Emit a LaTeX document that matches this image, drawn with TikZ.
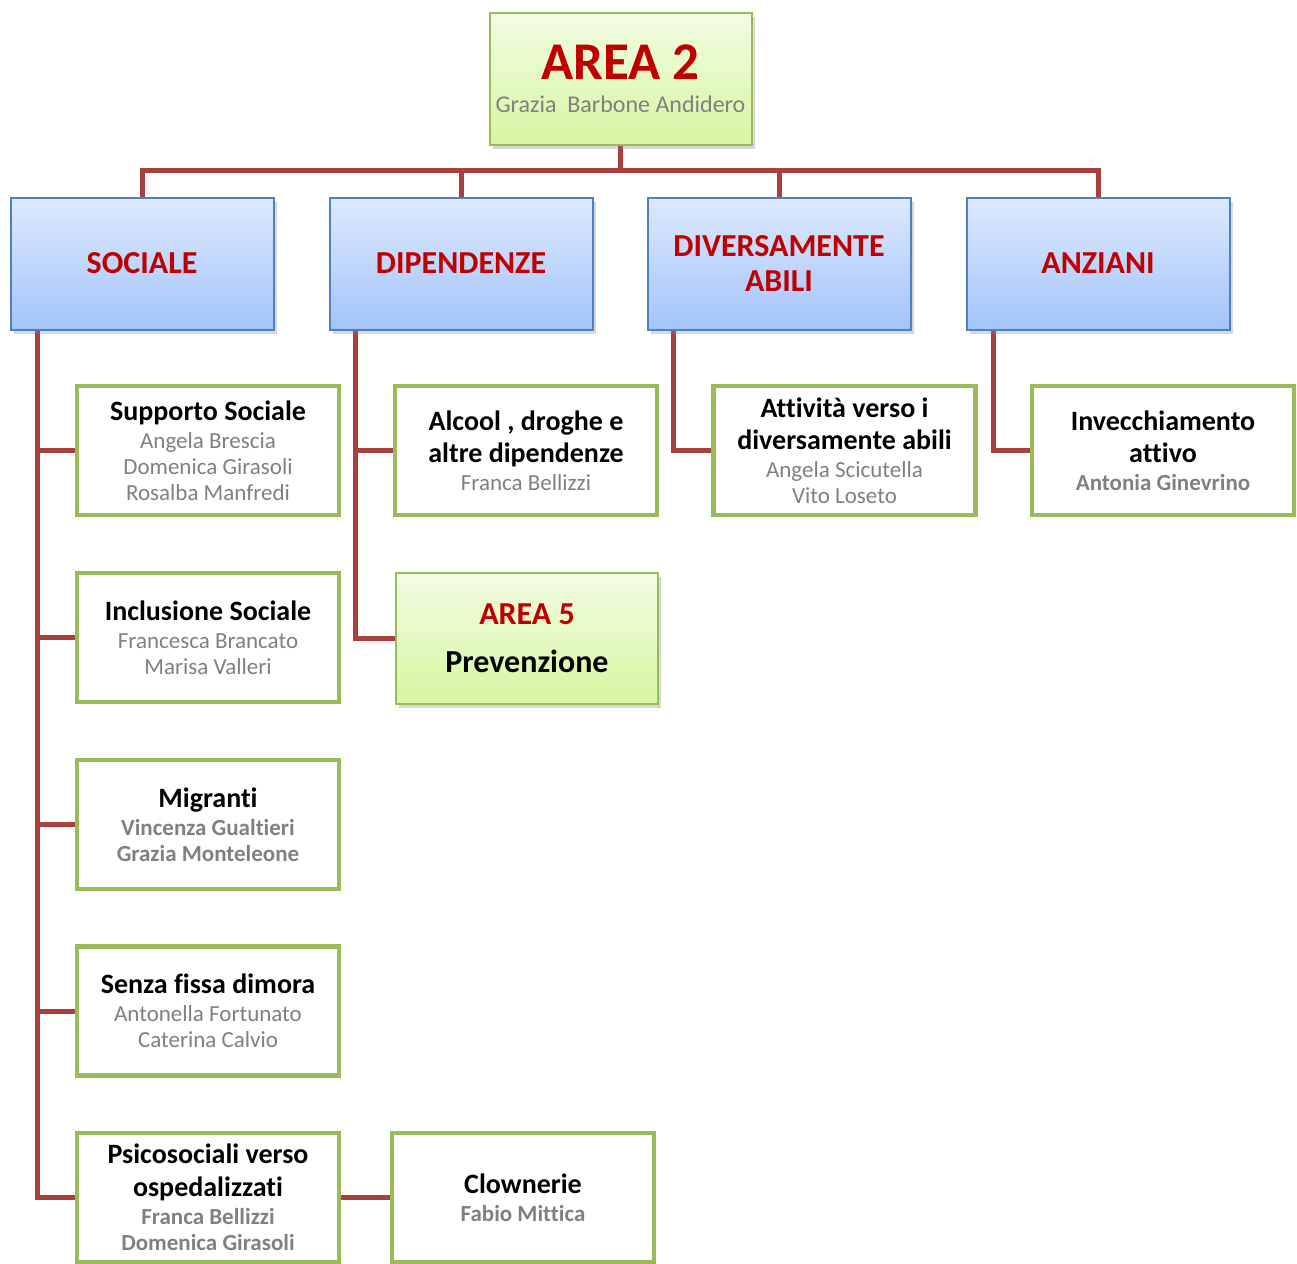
\documentclass[tikz,border=0pt]{standalone}
\usepackage{fontspec}
\setmainfont[RawFeature={-liga;-clig;-calt;-dlig}]{Carlito}
\usetikzlibrary{shadows}
\pgfdeclarelayer{background}
\pgfsetlayers{background,main}

\definecolor{linkred}{RGB}{170,64,62}
\definecolor{titlered}{RGB}{192,0,0}
\definecolor{namegray}{RGB}{128,128,128}
\definecolor{bluetop}{RGB}{222,233,252}
\definecolor{bluebot}{RGB}{163,196,250}
\definecolor{blueline}{RGB}{79,129,189}
\definecolor{greentop}{RGB}{242,252,228}
\definecolor{greenbot}{RGB}{214,246,160}
\definecolor{greenline}{RGB}{155,187,89}

\newcommand{\areatitle}[1]{{\fontsize{53}{56}\selectfont\bfseries\color{titlered}#1}}
\newcommand{\areasub}[1]{{\fontsize{24}{26}\selectfont\color{namegray}#1}}
\newcommand{\cattitle}[1]{{\fontsize{32}{35}\selectfont\bfseries\color{titlered}#1}}
\newcommand{\boxhead}[1]{{\fontsize{28}{32}\selectfont\bfseries #1}}
\newcommand{\boxname}[1]{{\fontsize{23}{26}\selectfont\color{namegray}#1}}
\newcommand{\boxnamebf}[1]{{\fontsize{23}{26}\selectfont\bfseries\color{namegray}#1}}

\tikzset{
  link/.style={draw=linkred, line width=5pt},
  areabox/.style={draw=greenline, line width=2pt, top color=greentop, bottom color=greenbot,
    minimum width=262pt, minimum height=131pt, align=center, inner sep=0pt,
    font=\fontsize{22}{26}\selectfont,
    drop shadow={shadow xshift=3pt, shadow yshift=-4pt, opacity=0.3}},
  catbox/.style={draw=blueline, line width=2pt, top color=bluetop, bottom color=bluebot,
    minimum width=263pt, minimum height=132pt, align=center, inner sep=0pt,
    font=\fontsize{22}{26}\selectfont,
    drop shadow={shadow xshift=3pt, shadow yshift=-4pt, opacity=0.3}},
  actbox/.style={draw=greenline, line width=4.5pt, fill=white,
    minimum width=262pt, minimum height=129pt, align=center, inner sep=0pt,
    font=\fontsize{22}{26}\selectfont},
}

\begin{document}
\begin{tikzpicture}[x=1pt,y=-1pt]
\useasboundingbox (0,0) rectangle (1297,1263);

\node[areabox] (area2) at (620.5,79) {\areatitle{AREA 2}\\[7pt] \areasub{Grazia\ \ Barbone Andidero}};

\node[catbox] (sociale) at (142,263.5) {\cattitle{SOCIALE}};
\node[catbox] (dipendenze) at (461,263.5) {\cattitle{DIPENDENZE}};
\node[catbox] (diversamente) at (779,263.5) {\cattitle{DIVERSAMENTE}\\[9pt] \cattitle{ABILI}};
\node[catbox] (anziani) at (1098,263.5) {\cattitle{ANZIANI}};

\node[actbox] (supporto) at (208,450.5) {\boxhead{Supporto Sociale}\\[2pt] \boxname{Angela Brescia}\\ \boxname{Domenica Girasoli}\\ \boxname{Rosalba Manfredi}};
\node[actbox] (inclusione) at (208,637.5) {\boxhead{Inclusione Sociale}\\[2pt] \boxname{Francesca Brancato}\\ \boxname{Marisa Valleri}};
\node[actbox] (migranti) at (208,824.5) {\boxhead{Migranti}\\[2pt] \boxnamebf{Vincenza Gualtieri}\\ \boxnamebf{Grazia Monteleone}};
\node[actbox] (senza) at (208,1011) {\boxhead{Senza fissa dimora}\\[2pt] \boxname{Antonella Fortunato}\\ \boxname{Caterina Calvio}};
\node[actbox] (psico) at (208,1197.5) {\boxhead{Psicosociali verso}\\[7pt] \boxhead{ospedalizzati}\\[2pt] \boxnamebf{Franca Bellizzi}\\ \boxnamebf{Domenica Girasoli}};
\node[actbox] (clown) at (523,1197.5) {\boxhead{Clownerie}\\[2pt] \boxnamebf{Fabio Mittica}};

\node[actbox] (alcool) at (526,450.5) {\boxhead{Alcool , droghe e}\\[6pt] \boxhead{altre dipendenze}\\[2pt] \boxname{Franca Bellizzi}};
\node[areabox] (area5) at (527,638) {\cattitle{AREA 5}\\[22pt] {\fontsize{32}{34}\selectfont\bfseries Prevenzione}};

\node[actbox] (attivita) at (844.5,450.5) {\boxhead{Attività verso i}\\[6pt] \boxhead{diversamente abili}\\[2pt] \boxname{Angela Scicutella}\\ \boxname{Vito Loseto}};
\node[actbox] (invecchiamento) at (1163,450.5) {\boxhead{Invecchiamento}\\[6pt] \boxhead{attivo}\\[2pt] \boxnamebf{Antonia Ginevrino}};

\begin{pgfonlayer}{background}
\fill[white] (0,0) rectangle (1297,1263);
\coordinate (bus) at ([yshift=-25pt]area2.south);
\draw[link] (area2.south) -- (bus);
\draw[link] (sociale.north) |- (bus) -| (anziani.north);
\draw[link] (dipendenze.north) -- (dipendenze.north |- bus);
\draw[link] (diversamente.north) -- (diversamente.north |- bus);

\coordinate (sstem) at ([xshift=-105pt]sociale.south);
\draw[link] (sstem) |- (psico.west);
\draw[link] (sstem |- supporto.west) -- (supporto.west);
\draw[link] (sstem |- inclusione.west) -- (inclusione.west);
\draw[link] (sstem |- migranti.west) -- (migranti.west);
\draw[link] (sstem |- senza.west) -- (senza.west);
\draw[link] (psico.east) -- (clown.west);

\coordinate (dstem) at ([xshift=-106pt]dipendenze.south);
\draw[link] (dstem) |- (area5.west);
\draw[link] (dstem |- alcool.west) -- (alcool.west);

\coordinate (vstem) at ([xshift=-106pt]diversamente.south);
\draw[link] (vstem) |- (attivita.west);

\coordinate (astem) at ([xshift=-105pt]anziani.south);
\draw[link] (astem) |- (invecchiamento.west);
\end{pgfonlayer}
\end{tikzpicture}
\end{document}
